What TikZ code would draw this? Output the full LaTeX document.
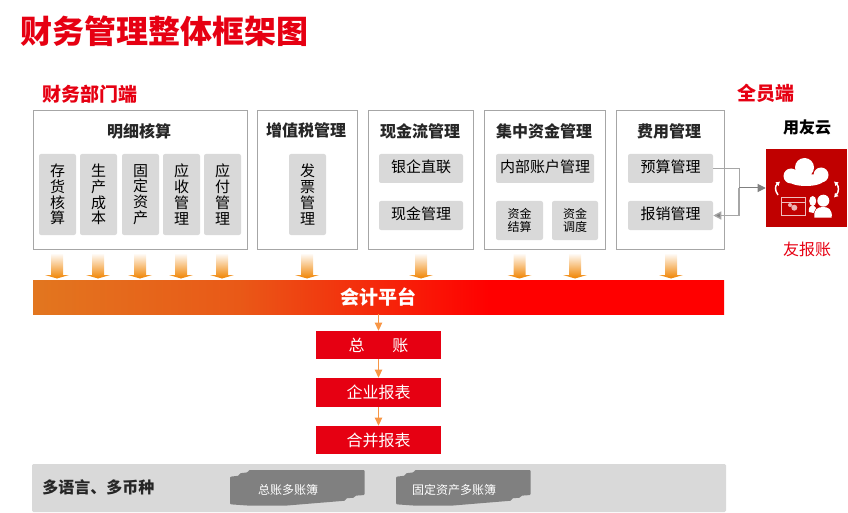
\documentclass[tikz,border=0pt]{standalone}
\usepackage{fontspec}
\setmainfont{Noto Sans CJK SC}
\usetikzlibrary{arrows.meta}
\definecolor{brandred}{HTML}{E60012}
\definecolor{darkred}{HTML}{C00000}
\definecolor{subgray}{HTML}{D9D9D9}
\definecolor{framegray}{HTML}{A6A6A6}
\definecolor{stackgray}{HTML}{808080}
\definecolor{inkgray}{HTML}{262626}
\definecolor{downorange}{HTML}{F08300}
\definecolor{linkorange}{HTML}{F79646}
\definecolor{platorange}{HTML}{E2761F}
\pgfdeclarehorizontalshading{platfade}{100bp}{color(0bp)=(platorange); color(25bp)=(platorange); color(40bp)=(platorange!75!red); color(58bp)=(red); color(100bp)=(red)}
\tikzset{
    px/.style 2 args={minimum width=#1*0.75pt, minimum height=#2*0.75pt, inner sep=0pt},
    frame/.style={draw=framegray, line width=0.75pt},
    frametitle/.style={font=\fontsize{12}{14}\selectfont\bfseries, text=inkgray},
    sidetitle/.style={font=\fontsize{14.25}{16}\selectfont\bfseries, text=brandred},
    subbox/.style={fill=subgray, rounded corners=1.5pt, text=black, align=center, font=\fontsize{11.25}{11.8}\selectfont},
    widesub/.style={subbox, text height=9.5pt, text depth=3.5pt},
    smallsub/.style={subbox, font=\fontsize{9}{10}\selectfont},
    redbox/.style={fill=brandred, text=white, font=\fontsize{12}{14}\selectfont},
    downarrow/.style={top color=white, bottom color=downorange},
    uplink/.style={draw=stackgray, line width=0.75pt, -{Triangle[length=6pt,width=6pt]}},
    lowlink/.style={draw=framegray, line width=1pt, -{Triangle[length=6pt,width=6pt,fill=stackgray]}},
    platlink/.style={draw=linkorange, line width=0.75pt, -{Triangle[length=6pt,width=5.5pt]}},
    stacktext/.style={text=white, font=\fontsize{9}{11}\selectfont},
    iconarrow/.style={white, line width=1.1pt},
    stack/.pic={
        \fill[stackgray, rounded corners=0.8pt] (0,34.3) -- (0,6.7) -- (9,5.7) -- (9.7,3.3) -- (18,2.3) -- (18.7,0) -- (134.6,0) -- (134.6,25) -- (125,25.7) -- (124.3,27.7) -- (116,28.3) -- (115.3,30.7) -- (91,32.7) -- (55,35.7) -- (20,35.7) -- cycle;
    }
}
\begin{document}
\begin{tikzpicture}[x=0.75pt, y=-0.75pt]
    \useasboundingbox (0,0) rectangle (848,513);

    % Titles
    \node (maintitle) at (20,31) [anchor=west, inner sep=0pt, text=brandred, font=\fontsize{24}{28}\selectfont\bfseries] {财务管理整体框架图};
    \node (financeside) at (42,94) [anchor=west, inner sep=0pt, sidetitle] {财务部门端};
    \node (staffside) at (737,93) [anchor=west, inner sep=0pt, sidetitle] {全员端};

    % Module frames
    \node (detail) at (140,179.75) [frame, px={214}{138.5}] {};
    \node (vat) at (307.5,179.75) [frame, px={100}{138.5}] {};
    \node (cash) at (420.75,179.75) [frame, px={105}{138.5}] {};
    \node (treasury) at (545,179.75) [frame, px={121.5}{138.5}] {};
    \node (expense) at (670.5,179.75) [frame, px={108.5}{138.5}] {};

    % Module titles
    \node (detailtitle) at (139,131) [frametitle] {明细核算};
    \node (vattitle) at (306,130) [frametitle] {增值税管理};
    \node (cashtitle) at (420,131) [frametitle] {现金流管理};
    \node (treasurytitle) at (544,131) [frametitle] {集中资金管理};
    \node (expensetitle) at (669,131) [frametitle] {费用管理};

    % Vertical items
    \node (stock) at (57.5,194.5) [subbox, px={37}{81}] {存\\货\\核\\算};
    \node (cost) at (98.5,194.5) [subbox, px={37}{81}] {生\\产\\成\\本};
    \node (asset) at (140.5,194.5) [subbox, px={37}{81}] {固\\定\\资\\产};
    \node (receive) at (181.5,194.5) [subbox, px={37}{81}] {应\\收\\管\\理};
    \node (pay) at (222.5,194.5) [subbox, px={37}{81}] {应\\付\\管\\理};
    \node (invoice) at (307.5,194.5) [subbox, px={37}{81}] {发\\票\\管\\理};

    % Horizontal items
    \node (bank) at (421,168.5) [widesub, px={84}{29}] {银企直联};
    \node (cashmgmt) at (421,215.5) [widesub, px={84}{29}] {现金管理};
    \node (account) at (545,168.5) [widesub, px={98}{29}] {内部账户管理};
    \node (settle) at (519.5,220.5) [smallsub, px={47}{39}] {资金\\结算};
    \node (allot) at (575,220.5) [smallsub, px={46}{39}] {资金\\调度};
    \node (budget) at (670.5,168.5) [widesub, px={85}{29}] {预算管理};
    \node (claim) at (670.5,215.5) [widesub, px={85}{29}] {报销管理};

    % Gradient arrows into the platform
    \foreach \x in {57,98,140,181,222,307,421,519.5,575,671}
        \shade[downarrow] (\x-6,253) -- (\x+6,253) -- (\x+6,275) -- (\x+12,275) -- (\x,278.5) -- (\x-12,275) -- (\x-6,275) -- cycle;

    % Accounting platform
    \node (platform) at (378.5,297) [shade, shading=platfade, px={691}{34}, text=white, font=\fontsize{14.25}{16}\selectfont\bfseries] {会计平台};

    % Ledger column
    \node (ledger) at (378.5,345) [redbox, px={125}{28}] {总\hspace{1.72em}账};
    \node (report) at (378.5,392.5) [redbox, px={125}{29}] {企业报表};
    \node (merged) at (378.5,440) [redbox, px={125}{28}] {合并报表};
    \draw[platlink] (platform) -- (ledger);
    \draw[platlink] (ledger) -- (report);
    \draw[platlink] (report) -- (merged);

    % Bottom band
    \node (band) at (379,488) [fill=subgray, rounded corners=1pt, px={694}{48}] {};
    \node (language) at (42,487) [anchor=west, inner sep=0pt, frametitle] {多语言、多币种};
    \pic at (230,470) {stack};
    \pic at (396,470) {stack};
    \node (ledgerstack) at (288,490) [stacktext] {总账多账簿};
    \node (assetstack) at (454,490) [stacktext] {固定资产多账簿};

    % Staff side icon
    \node (staffcloud) at (807,127) [inner sep=0pt, font=\fontsize{12}{14}\selectfont\bfseries] {用友云};
    \node (icon) at (806.5,188) [fill=darkred, px={81}{78}] {};
    \node (claimapp) at (807,249) [inner sep=0pt, text=brandred, font=\fontsize{12}{14}\selectfont] {友报账};
    \fill[white] (804.5,167.5) circle (9.5) (791,176) circle (7.5) (821,175) circle (7.5)
        (806,180) ellipse (18 and 6);
    \draw[iconarrow, -{Latex[length=3pt,width=4pt]}] (778,195) .. controls (774.5,190) and (775,186) .. (780,181.5);
    \draw[iconarrow, {Latex[length=3pt,width=4pt]}-{Latex[length=3pt,width=4pt]}] (834,181.5) .. controls (839,186) and (839,192) .. (834,197.5);
    \draw[white!75!darkred, line width=0.75pt] (781,198) rectangle (805.3,215.7) (781,202.3) -- (805.3,202.3);
    \fill[white!70!darkred] (790,205) circle (2) (794.3,207.7) circle (3);
    \fill[white] (812.7,201) ellipse (3.5 and 5) (823.3,200.7) circle (6);
    \fill[white] (809,212) .. controls (808,208) and (810,206) .. (813,205) -- (816,208) -- (813.5,213) -- cycle;
    \fill[white] (814.3,217.5) .. controls (813.5,209) and (818,207) .. (823,207) .. controls (828,207) and (832.5,209) .. (831.7,217.5) -- cycle;

    % Links between expense items and the icon
    \coordinate (hub) at (739,188);
    \draw[framegray, line width=0.75pt] (budget.east) -| (hub);
    \draw[uplink] (hub) -- (icon.west);
    \draw[lowlink] (hub) |- (claim.east);
\end{tikzpicture}
\end{document}
